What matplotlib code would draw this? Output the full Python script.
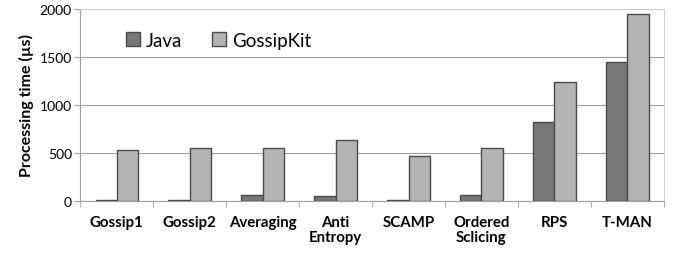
import matplotlib
matplotlib.use("Agg")
import matplotlib.pyplot as plt
import numpy as np

categories = ["Gossip1", "Gossip2", "Averaging", "Anti\nEntropy", "SCAMP",
              "Ordered\nSclicing", "RPS", "T-MAN"]
java = [15, 15, 63, 50, 15, 67, 818, 1447]
gossipkit = [532, 550, 550, 630, 473, 550, 1242, 1945]

plt.rcParams["font.family"] = ["Lato", "DejaVu Sans"]

fig = plt.figure(figsize=(6.74, 2.55), dpi=100)
ax = fig.add_axes([0.119, 0.208, 0.866, 0.753])

x = np.arange(len(categories))
w = 0.29
ax.bar(x - w / 2, java, w, color="#777777", edgecolor="#4a4a4a", lw=1.0, label="Java", zorder=3)
ax.bar(x + w / 2, gossipkit, w, color="#b4b4b4", edgecolor="#4a4a4a", lw=1.0, label="GossipKit", zorder=3)

ax.set_xlim(-0.5, len(categories) - 0.5)
ax.set_ylim(0, 2000)
ax.set_yticks([0, 500, 1000, 1500, 2000])
ax.yaxis.grid(True, color="#a0a0a0", lw=0.8, zorder=0)
ax.set_xticks(np.arange(len(categories) + 1) - 0.5, minor=True)
ax.set_xticks(x)
ax.set_xticklabels(categories, fontweight="bold", fontsize=10.8, linespacing=1.1)
ax.tick_params(axis="x", which="major", length=0, pad=10)
ax.tick_params(axis="x", which="minor", length=4, color="#a0a0a0")
ax.tick_params(axis="y", length=4, color="#a0a0a0", labelsize=10, pad=2)
for s in ["top", "right"]:
    ax.spines[s].set_color("#d0d0d0")
for s in ["left", "bottom"]:
    ax.spines[s].set_color("#a0a0a0")
ax.set_ylabel("Processing time (µs)", fontweight="bold", fontsize=11.5, labelpad=4)

ax.legend(loc="upper left", bbox_to_anchor=(0.05, 0.97), ncol=2, frameon=False,
          fontsize=13.5, handlelength=0.75, handleheight=0.75, handletextpad=0.3, columnspacing=1.6)

fig.savefig("out.png", dpi=100)
